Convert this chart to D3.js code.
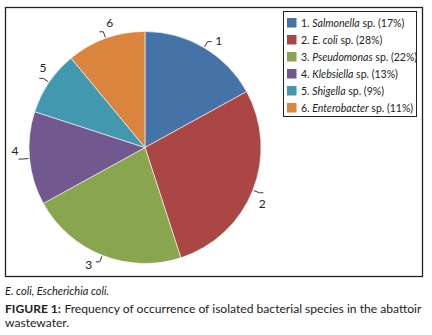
<!DOCTYPE html>
<html>
<head>
<meta charset="utf-8">
<script src="https://cdn.jsdelivr.net/npm/d3@7"></script>
<style>
  body { margin: 0; background: #fff; }
  svg { display: block; font-family: Lato, "Open Sans", sans-serif; }
</style>
</head>
<body>
<svg id="chart" width="432" height="335"></svg>
<script>
(() => {
    // chart data
    const labels = ["1", "2", "3", "4", "5", "6"];
    const species = ["Salmonella", "E. coli", "Pseudomonas", "Klebsiella", "Shigella", "Enterobacter"];
    const percents = [17, 28, 22, 13, 9, 11];
    const colors = ["#4572A7", "#AA4643", "#89A54E", "#71588F", "#4198AF", "#DB843D"];

    const svg = d3.select("#chart");

    // outer frame
    svg.append("rect")
        .attr("x", 5.5).attr("y", 7.5)
        .attr("width", 417).attr("height", 269)
        .attr("fill", "none").attr("stroke", "#222").attr("stroke-width", 1.3);

    const cx = 145, cy = 147.5, r = 116;
    const g = svg.append("g").attr("transform", `translate(${cx},${cy})`);

    const pie = d3.pie().sort(null).value(d => d.value);
    const arcs = pie(labels.map((l, i) => ({ label: l, value: percents[i], color: colors[i] })));
    const arc = d3.arc().innerRadius(0).outerRadius(r);

    g.selectAll("path.slice").data(arcs).join("path")
        .attr("class", "slice")
        .attr("d", arc)
        .attr("fill", d => d.data.color)
        .attr("stroke", "#fff").attr("stroke-width", 0.6);

    // leader lines + labels
    const pt = (a, rad) => [Math.sin(a) * rad, -Math.cos(a) * rad];
    arcs.forEach(d => {
        const mid = (d.startAngle + d.endAngle) / 2;
        const p0 = pt(mid, r + 1);
        const p1 = pt(mid, r + 7);
        const side = Math.sin(mid) >= 0 ? 1 : -1;
        const p2 = [p1[0] + side * 4, p1[1]];
        g.append("polyline")
            .attr("points", [p0, p1, p2].map(p => p.join(",")).join(" "))
            .attr("fill", "none").attr("stroke", "#222").attr("stroke-width", 0.9);
        const lp = pt(mid + 0.07, r + 14);
        g.append("text")
            .attr("x", lp[0]).attr("y", lp[1])
            .attr("text-anchor", "middle").attr("dominant-baseline", "central")
            .attr("font-size", 12).attr("fill", "#222")
            .text(d.data.label);
    });

    // legend
    const lg = svg.append("g");
    lg.append("rect")
        .attr("x", 283.5).attr("y", 11.5)
        .attr("width", 133).attr("height", 105)
        .attr("fill", "none").attr("stroke", "#222").attr("stroke-width", 1);
    const y = d3.scaleBand().domain(labels).range([14, 116]);
    labels.forEach((l, i) => {
        const yc = y(l) + y.bandwidth() / 2;
        lg.append("rect")
            .attr("x", 287).attr("y", yc - 4.5)
            .attr("width", 9.5).attr("height", 9.5)
            .attr("fill", colors[i]);
        const t = lg.append("text")
            .attr("x", 301).attr("y", yc)
            .attr("dominant-baseline", "central")
            .attr("font-size", 10.5).attr("fill", "#222");
        t.append("tspan").text(l + ". ");
        t.append("tspan").attr("font-style", "italic").text(species[i]);
        t.append("tspan").text(` sp. (${percents[i]}%)`);
    });

    // caption
    svg.append("text")
        .attr("x", 5).attr("y", 295)
        .attr("font-size", 11).attr("font-style", "italic").attr("fill", "#222")
        .text("E. coli, Escherichia coli.");

    // fit the first caption line to ~420px
    let fs = 13;
    const head = svg.append("text")
        .attr("x", 5).attr("y", 313)
        .attr("font-weight", "bold").attr("fill", "#222")
        .text("FIGURE 1:");
    const rest = svg.append("text")
        .attr("y", 313).attr("fill", "#222")
        .text("Frequency of occurrence of isolated bacterial species in the abattoir");
    const layout = () => {
        head.attr("font-size", fs);
        rest.attr("font-size", fs);
        const hw = head.node().getComputedTextLength();
        rest.attr("x", 5 + hw + fs * 0.28);
        return hw + fs * 0.28 + rest.node().getComputedTextLength();
    };
    while (layout() > 419 && fs > 9) fs -= 0.1;

    svg.append("text")
        .attr("x", 5).attr("y", 327)
        .attr("font-size", fs).attr("fill", "#222")
        .text("wastewater.");
})();
</script>
</body>
</html>
